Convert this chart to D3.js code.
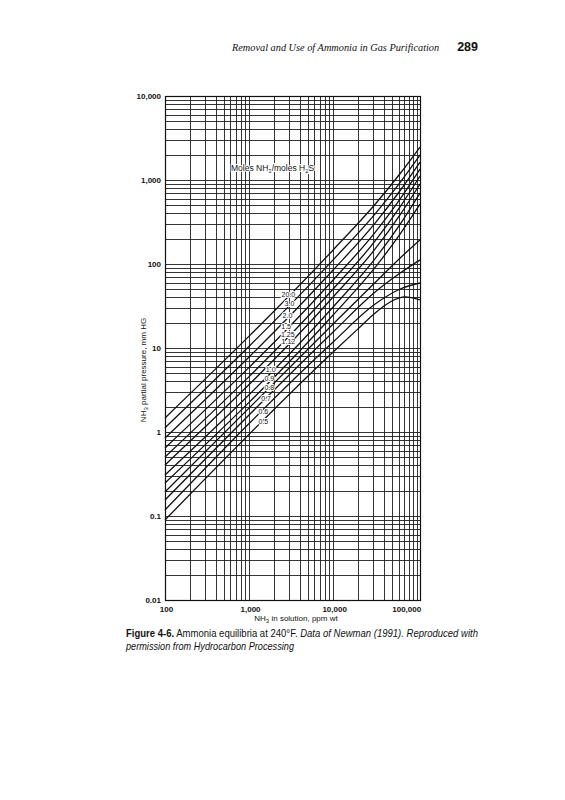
<!DOCTYPE html>
<html>
<head>
<meta charset="utf-8">
<script src="https://cdn.jsdelivr.net/npm/d3@7"></script>
<style>
  body { margin: 0; background: #fff; }
  svg { display: block; }
  text { font-family: 'Liberation Sans', Arial, sans-serif; fill: #111; }
</style>
</head>
<body>
<svg id="chart" width="565" height="800"></svg>
<script>
const xTickValues = [100, 1000, 10000, 100000];
const xTickLabels = ['100', '1,000', '10,000', '100,000'];
const yTickValues = [0.01, 0.1, 1, 10, 100, 1000, 10000];
const yTickLabels = ['0.01', '0.1', '1', '10', '100', '1,000', '10,000'];

// moles NH3 / moles H2S, one curve each
const ratios = ['20.0', '3.0', '2.0', '1.5', '1.25', '1.12', '1.0', '0.9', '0.8', '0.7', '0.6', '0.5'];
// ppm wt at which each curve label sits
const labelConc = [2940, 3020, 2860, 2760, 2890, 2940, 1810, 1745, 1745, 1594, 1480, 1480];

// NH3 in solution, ppm wt
const concHigh = [100, 10000, 31600, 62800, 108000];
const concLow = [100, 10000, 20900, 31600, 47700, 72000, 108000];

// NH3 partial pressure, mm Hg
const p20_0 = [1.47, 147, 514, 1195, 2470];
const p3_0 = [1.12, 112, 396, 939, 1985];
const p2_0 = [0.848, 84.8, 307, 750, 1637];
const p1_5 = [0.645, 64.5, 238, 597, 1352];
const p1_25 = [0.504, 50.4, 188, 482, 1116];
const p1_12 = [0.405, 40.5, 151, 387, 896];
const p1_0 = [0.308, 30.8, 116, 299, 700];
const p0_9 = [0.247, 24.7, 91, 229, 518];
const p0_8 = [0.193, 19.3, 60.2, 118, 193];
const p0_7 = [0.155, 15.5, 46.4, 78, 112];
const p0_6 = [0.118, 11.8, 33.4, 50.4, 59.4];
const p0_5 = [0.0896, 8.96, 17.8, 26.1, 35.3, 40.5, 37.3];

const pressures = [p20_0, p3_0, p2_0, p1_5, p1_25, p1_12, p1_0, p0_9, p0_8, p0_7, p0_6, p0_5];

const margin = {left: 165, right: 420, top: 96, bottom: 600};

const svg = d3.select('#chart');

const xScale = d3.scaleLog().domain([100, 108000]).range([margin.left, margin.right]);
const yScale = d3.scaleLog().domain([0.01, 10000]).range([margin.bottom, margin.top]);

// page header
svg.append('text')
  .attr('x', 232)
  .attr('y', 51)
  .style('font-family', "'Liberation Serif', 'Times New Roman', serif")
  .style('font-style', 'italic')
  .style('font-size', '10.3px')
  .text('Removal and Use of Ammonia in Gas Purification');

svg.append('text')
  .attr('x', 478)
  .attr('y', 51)
  .attr('text-anchor', 'end')
  .style('font-weight', 'bold')
  .style('font-size', '12.5px')
  .text('289');

// log grid, every 1..9 x decade
const gridX = [];
for (let k = 2; k <= 5; k++) for (let m = 1; m <= 9; m++) gridX.push(m * Math.pow(10, k));
const gridY = [];
for (let k = -2; k <= 3; k++) for (let m = 1; m <= 9; m++) gridY.push(m * Math.pow(10, k));

const gGrid = svg.append('g').attr('class', 'g_grid');

gGrid.selectAll('.grid_v')
  .data(gridX.filter(d => d > 100 && d < 108000))
  .enter()
  .append('line')
  .attr('class', 'grid_v')
  .attr('x1', d => Math.round(xScale(d)) + 0.5)
  .attr('x2', d => Math.round(xScale(d)) + 0.5)
  .attr('y1', margin.top)
  .attr('y2', margin.bottom)
  .style('stroke', '#1e1e1e')
  .style('stroke-width', 0.9);

gGrid.selectAll('.grid_h')
  .data(gridY.filter(d => d > 0.01 && d < 10000))
  .enter()
  .append('line')
  .attr('class', 'grid_h')
  .attr('x1', margin.left)
  .attr('x2', margin.right)
  .attr('y1', d => Math.round(yScale(d)) + 0.5)
  .attr('y2', d => Math.round(yScale(d)) + 0.5)
  .style('stroke', '#1e1e1e')
  .style('stroke-width', 0.9);

gGrid.append('rect')
  .attr('x', margin.left + 0.5)
  .attr('y', margin.top + 0.5)
  .attr('width', margin.right - margin.left)
  .attr('height', margin.bottom - margin.top)
  .style('fill', 'none')
  .style('stroke', '#111')
  .style('stroke-width', 1.2);

// axes (labels only, the grid does the rest)
const xAxis = d3.axisBottom(xScale)
  .tickValues(xTickValues)
  .tickFormat((d, i) => xTickLabels[i])
  .tickSize(0)
  .tickPadding(6);

svg.append('g')
  .attr('class', 'g_x_axis')
  .attr('transform', 'translate(0,' + margin.bottom + ')')
  .call(xAxis)
  .call(g => g.select('.domain').remove())
  .selectAll('text')
  .attr('dx', (d, i) => (i === xTickValues.length - 1 ? -11 : 1))
  .style('font-size', '8px')
  .style('font-weight', 'bold')
  .style('fill', '#111');

const yAxis = d3.axisLeft(yScale)
  .tickValues(yTickValues)
  .tickFormat((d, i) => yTickLabels[i])
  .tickSize(0)
  .tickPadding(4);

svg.append('g')
  .attr('class', 'g_y_axis')
  .attr('transform', 'translate(' + margin.left + ',0)')
  .call(yAxis)
  .call(g => g.select('.domain').remove())
  .selectAll('text')
  .style('font-size', '8px')
  .style('font-weight', 'bold')
  .style('fill', '#111');

// axis titles
const xTitle = svg.append('text')
  .attr('x', 296)
  .attr('y', 621)
  .attr('text-anchor', 'middle')
  .style('font-size', '8px');
xTitle.append('tspan').text('NH');
xTitle.append('tspan').attr('dy', 2).style('font-size', '6px').text('3');
xTitle.append('tspan').attr('dy', -2).text(' in solution, ppm wt');

const yTitle = svg.append('text')
  .attr('transform', 'translate(146,370) rotate(-90)')
  .attr('text-anchor', 'middle')
  .style('font-size', '8px');
yTitle.append('tspan').text('NH');
yTitle.append('tspan').attr('dy', 2).style('font-size', '6px').text('3');
yTitle.append('tspan').attr('dy', -2).text(' partial pressure, mm HG');

// curves
const drawCurve = d3.line()
  .x(d => xScale(d[0]))
  .y(d => yScale(d[1]))
  .curve(d3.curveMonotoneX);

const curveData = pressures.map((ps, i) => {
  const cs = ps.length === concLow.length ? concLow : concHigh;
  return ps.map((p, j) => [cs[j], p]);
});

svg.append('g')
  .attr('class', 'g_curves')
  .selectAll('.curve')
  .data(curveData)
  .enter()
  .append('path')
  .attr('class', (d, i) => 'curve curve_' + i)
  .attr('d', drawCurve)
  .style('fill', 'none')
  .style('stroke', '#111')
  .style('stroke-width', 1.3);

// label position on the straight (slope 1) part of each curve
function pressureAt(pts, c) {
  for (let j = 1; j < pts.length; j++) {
    if (c <= pts[j][0]) {
      const t = Math.log(c / pts[j - 1][0]) / Math.log(pts[j][0] / pts[j - 1][0]);
      return Math.exp(Math.log(pts[j - 1][1]) + t * Math.log(pts[j][1] / pts[j - 1][1]));
    }
  }
  return pts[pts.length - 1][1];
}

svg.append('g')
  .attr('class', 'g_curve_labels')
  .selectAll('.curve_label')
  .data(ratios)
  .enter()
  .append('text')
  .attr('class', 'curve_label')
  .attr('x', (d, i) => xScale(labelConc[i]))
  .attr('y', (d, i) => yScale(pressureAt(curveData[i], labelConc[i])))
  .attr('dy', '0.35em')
  .attr('text-anchor', 'middle')
  .style('font-size', '7px')
  .style('stroke', '#fff')
  .style('stroke-width', 2)
  .style('paint-order', 'stroke')
  .text(d => d);

// legend title
const legendTitle = svg.append('text')
  .attr('x', 231)
  .attr('y', 171)
  .style('font-size', '8.5px')
  .style('stroke', '#fff')
  .style('stroke-width', 2)
  .style('paint-order', 'stroke');
legendTitle.append('tspan').text('Moles NH');
legendTitle.append('tspan').attr('dy', 2).style('font-size', '6px').text('3');
legendTitle.append('tspan').attr('dy', -2).text('/moles H');
legendTitle.append('tspan').attr('dy', 2).style('font-size', '6px').text('2');
legendTitle.append('tspan').attr('dy', -2).text('S');

// caption
const captionFont = "'Liberation Sans Narrow', 'Arial Narrow', 'Liberation Sans', sans-serif";
const cap1 = svg.append('text')
  .attr('x', 126)
  .attr('y', 637)
  .attr('textLength', 352)
  .attr('lengthAdjust', 'spacingAndGlyphs')
  .style('font-family', captionFont)
  .style('font-size', '10.5px');
cap1.append('tspan').style('font-weight', 'bold').text('Figure 4-6.');
cap1.append('tspan').text(' Ammonia equilibria at 240°F. ');
cap1.append('tspan').style('font-style', 'italic').text('Data of Newman (1991). Reproduced with');

svg.append('text')
  .attr('x', 126)
  .attr('y', 650)
  .attr('textLength', 168)
  .attr('lengthAdjust', 'spacingAndGlyphs')
  .style('font-family', captionFont)
  .style('font-style', 'italic')
  .style('font-size', '10.5px')
  .text('permission from Hydrocarbon Processing');
</script>
</body>
</html>
